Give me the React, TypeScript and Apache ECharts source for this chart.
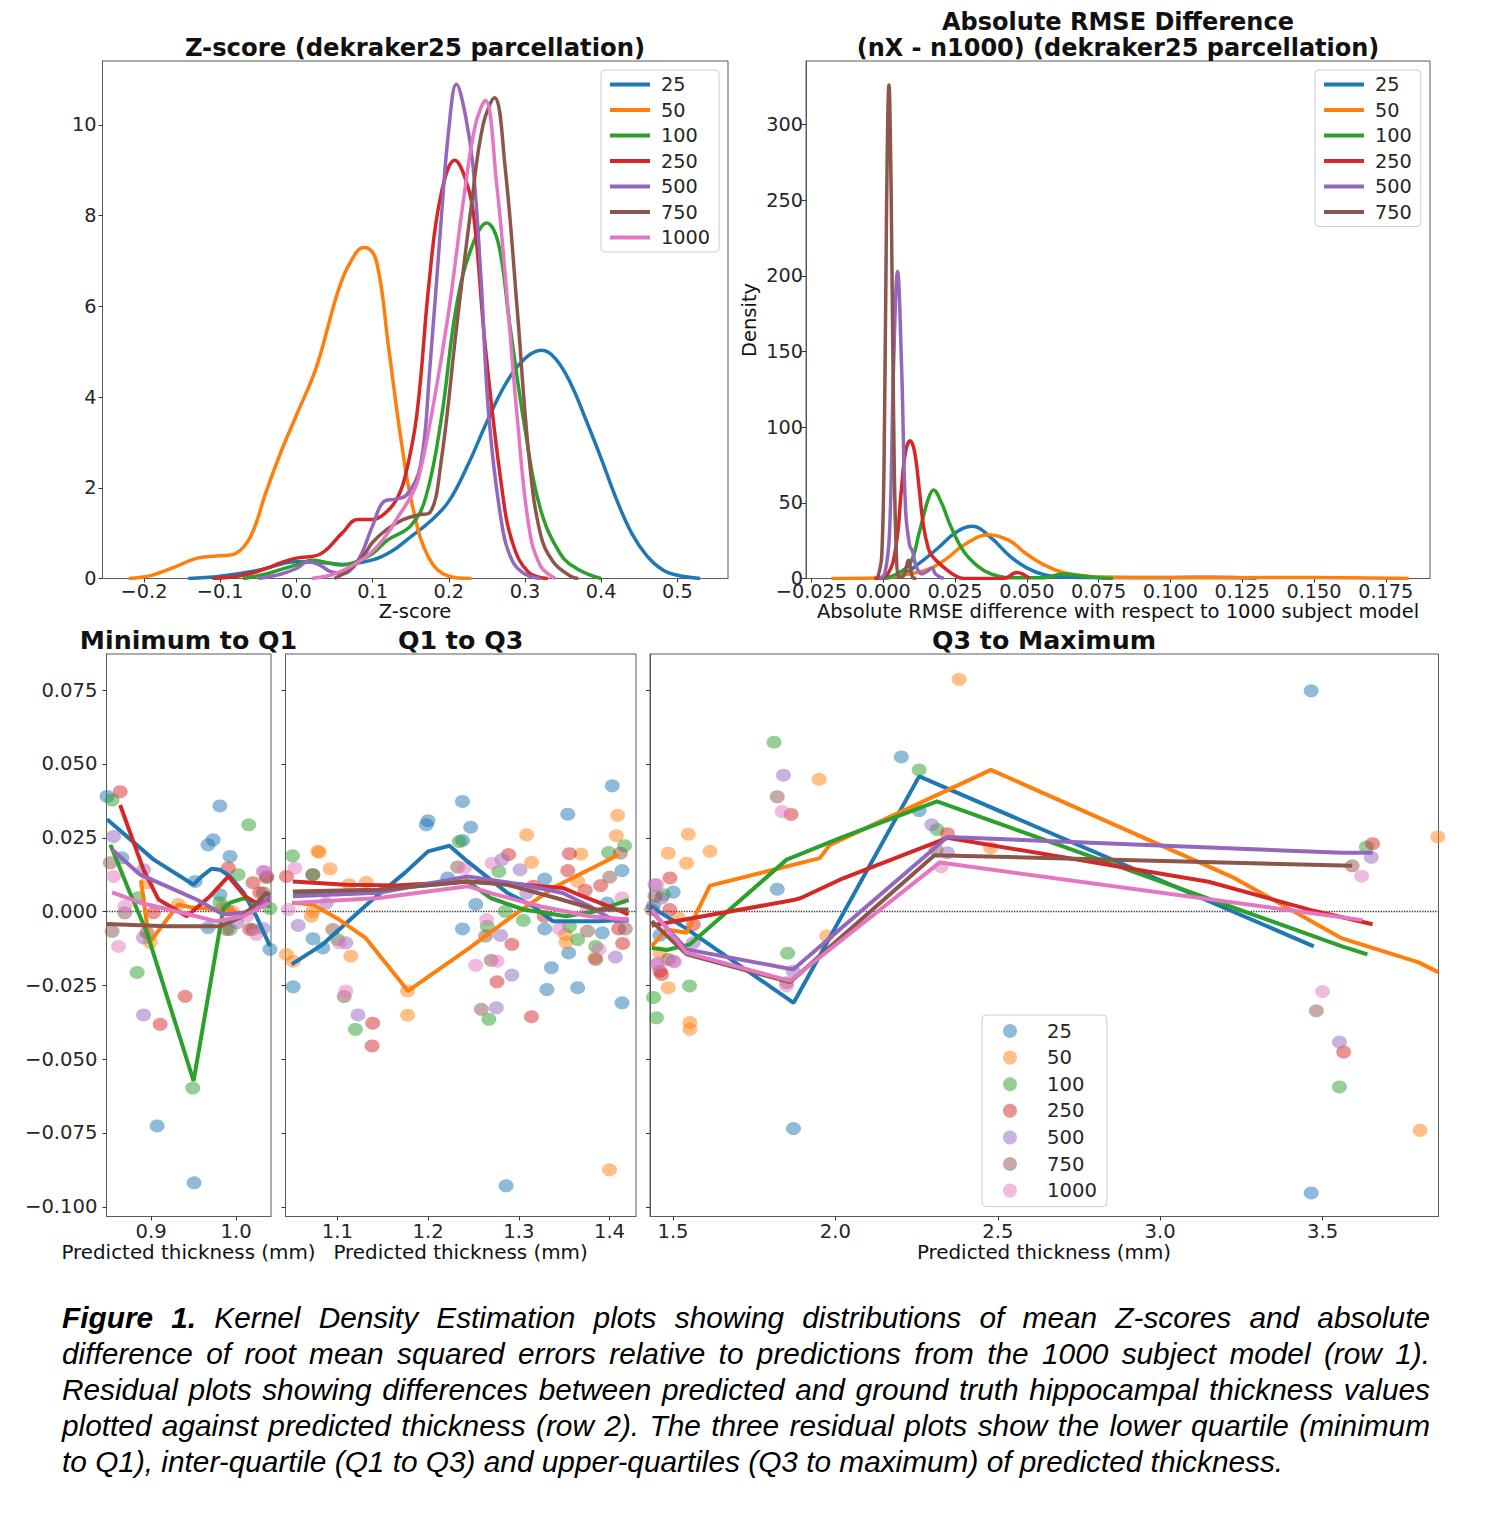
import React, { useEffect, useRef } from "react";
import * as echarts from "echarts";

// ---------- categories / ticks ----------
const SIZES = ["25", "50", "100", "250", "500", "750", "1000"];
const COLORS = ["#1f77b4", "#ff7f0e", "#2ca02c", "#d62728", "#9467bd", "#8c564b", "#e377c2"];

const zTicks = [-0.2, -0.1, 0.0, 0.1, 0.2, 0.3, 0.4, 0.5];
const zDensTicks = [0, 2, 4, 6, 8, 10];
const rTicks = [-0.025, 0.0, 0.025, 0.05, 0.075, 0.1, 0.125, 0.15, 0.175];
const rDensTicks = [0, 50, 100, 150, 200, 250, 300];
const resTicks = [-0.1, -0.075, -0.05, -0.025, 0.0, 0.025, 0.05, 0.075];
const p1Ticks = [0.9, 1.0];
const p2Ticks = [1.1, 1.2, 1.3, 1.4];
const p3Ticks = [1.5, 2.0, 2.5, 3.0, 3.5];

// ---------- KDE of Z-scores ----------
const z25 = [[-0.142,0],[-0.1,0.05],[-0.05,0.18],[0.0,0.37],[0.03,0.36],[0.06,0.31],[0.1,0.41],[0.125,0.6],[0.15,0.92],[0.175,1.25],[0.2,1.7],[0.225,2.5],[0.25,3.45],[0.275,4.3],[0.3,4.85],[0.322,5.03],[0.34,4.85],[0.36,4.3],[0.38,3.5],[0.4,2.65],[0.42,1.75],[0.44,1.0],[0.46,0.5],[0.48,0.2],[0.5,0.07],[0.53,0]];
const z50 = [[-0.22,0],[-0.19,0.07],[-0.16,0.25],[-0.13,0.45],[-0.1,0.5],[-0.08,0.55],[-0.06,0.93],[-0.04,1.9],[-0.02,2.8],[0.0,3.6],[0.026,4.65],[0.058,6.5],[0.079,7.2],[0.09,7.3],[0.105,7.0],[0.121,5.1],[0.137,3.1],[0.153,1.55],[0.174,0.45],[0.2,0.05],[0.23,0]];
const z100 = [[-0.07,0],[-0.04,0.1],[-0.02,0.2],[0.0,0.3],[0.02,0.4],[0.04,0.35],[0.06,0.3],[0.08,0.38],[0.1,0.55],[0.12,0.85],[0.15,1.16],[0.17,1.8],[0.19,3.5],[0.21,6.0],[0.23,7.3],[0.25,7.84],[0.265,7.4],[0.28,5.6],[0.3,3.3],[0.32,1.55],[0.347,0.53],[0.37,0.2],[0.4,0]];
const z250 = [[-0.11,0],[-0.07,0.07],[-0.04,0.22],[-0.02,0.35],[0.0,0.45],[0.03,0.53],[0.06,1.0],[0.08,1.3],[0.1,1.3],[0.115,1.42],[0.13,1.7],[0.142,2.2],[0.158,3.6],[0.174,6.5],[0.189,8.4],[0.208,9.22],[0.22,8.9],[0.232,8.1],[0.248,5.1],[0.27,1.95],[0.284,0.77],[0.305,0.13],[0.33,0]];
const z500 = [[-0.05,0],[-0.02,0.1],[0.0,0.22],[0.015,0.37],[0.03,0.3],[0.045,0.15],[0.06,0.1],[0.08,0.37],[0.1,1.16],[0.115,1.7],[0.13,1.75],[0.145,1.85],[0.163,2.5],[0.175,4.6],[0.19,7.9],[0.2,9.9],[0.21,10.9],[0.222,10.2],[0.232,9.06],[0.242,6.7],[0.253,3.5],[0.27,1.16],[0.284,0.37],[0.3,0.1],[0.32,0]];
const z750 = [[0.05,0],[0.07,0.2],[0.09,0.55],[0.1,0.8],[0.12,1.1],[0.14,1.3],[0.16,1.4],[0.175,1.45],[0.19,2.58],[0.21,5.5],[0.23,8.27],[0.245,10.0],[0.26,10.6],[0.274,9.06],[0.29,5.9],[0.305,2.74],[0.32,1.0],[0.337,0.37],[0.36,0.05],[0.37,0]];
const z1000 = [[0.02,0],[0.05,0.1],[0.08,0.35],[0.1,0.6],[0.12,1.0],[0.135,1.4],[0.15,1.8],[0.16,2.19],[0.18,3.85],[0.2,5.9],[0.22,8.43],[0.235,10.0],[0.248,10.54],[0.263,8.67],[0.274,6.7],[0.29,3.53],[0.305,1.16],[0.32,0.29],[0.34,0]];
const zCurves = [z25, z50, z100, z250, z500, z750, z1000];

// ---------- KDE of absolute RMSE differences ----------
const r25 = [[-0.003,0],[0.006,2],[0.0125,10],[0.019,20],[0.025,30],[0.031,34.5],[0.0375,27],[0.044,15],[0.05,7],[0.056,2.5],[0.0625,1],[0.075,0.6],[0.1,0.7],[0.115,0.8],[0.125,0.5],[0.13,0]];
const r50 = [[-0.018,0],[-0.003,0.3],[0.006,2],[0.0156,6],[0.022,13],[0.028,22],[0.0367,28.9],[0.044,25],[0.05,16],[0.056,9],[0.0625,4],[0.069,2],[0.075,1],[0.09,0.5],[0.12,0.5],[0.15,0.7],[0.183,0]];
const r100 = [[0,0],[0.0047,3],[0.0094,10],[0.0125,30],[0.0156,52],[0.0175,58.5],[0.0203,50],[0.0234,35],[0.028,18],[0.033,8],[0.0375,3],[0.044,0.5],[0.056,0.5],[0.0625,3],[0.068,2],[0.075,0.5],[0.08,0]];
const r250 = [[-0.003,0],[0.0016,3],[0.0045,22],[0.0063,58],[0.0078,84],[0.0094,91],[0.0109,84],[0.0125,60],[0.014,35],[0.0157,20],[0.017,15],[0.0195,10],[0.022,6],[0.025,2],[0.028,0],[0.042,0],[0.0465,4],[0.051,0]];
const r500 = [[-0.0016,0],[0.0005,3],[0.0022,30],[0.0036,140],[0.005,203],[0.0064,140],[0.0078,45],[0.0092,22],[0.0102,18],[0.0115,8],[0.0135,3],[0.0155,5],[0.017,7],[0.0182,3],[0.021,0]];
const r750 = [[-0.002,0],[-0.0005,15],[0.0005,110],[0.0012,250],[0.002,326],[0.0028,250],[0.0036,110],[0.0046,15],[0.0057,1],[0.0072,2],[0.0088,12],[0.0102,1],[0.0115,0]];
const rCurves = [r25, r50, r100, r250, r500, r750];

// ---------- residuals: Minimum to Q1 ----------
const p1Line25 = [[0.848,0.0313],[0.903,0.0176],[0.95,0.0091],[0.958,0.0115],[0.971,0.0145],[0.981,0.0142],[0.993,0.0119],[1.009,0.0064],[1.024,-0.0016],[1.04,-0.0117]];
const p1Line50 = [[0.888,0.0105],[0.898,-0.0105],[0.932,0.0024],[0.946,0.0015],[0.977,0.0007],[1.0,0.0002]];
const p1Line100 = [[0.852,0.0226],[0.875,0.0064],[0.895,-0.0071],[0.95,-0.0574],[0.985,0.001],[0.993,0.003],[1.009,0.0045],[1.024,0.003],[1.04,0.0018]];
const p1Line250 = [[0.8635,0.0361],[0.891,0.0142],[0.9086,0.0041],[0.942,-0.0016],[0.9694,0.0052],[0.991,0.0119],[1.0106,0.0052],[1.024,0.0029],[1.04,0.004]];
const p1Line500 = [[0.854,0.021],[0.887,0.0125],[0.918,0.0086],[0.954,0.004],[0.985,-0.001],[1.0086,-0.0004],[1.028,0.0018],[1.04,0.0052]];
const p1Line750 = [[0.848,-0.0042],[0.918,-0.005],[0.981,-0.005],[1.008,-0.0016],[1.036,0.0063],[1.04,0.0055]];
const p1Line1000 = [[0.854,0.0065],[0.887,0.003],[0.938,-0.0005],[0.977,-0.0033],[1.0086,-0.0016],[1.04,0.003]];
const p1Pts25 = [[0.848,0.039],[0.8655,0.0182],[0.9518,0.0102],[0.967,0.0226],[0.973,0.0243],[0.981,0.0358],[0.981,0.0057],[0.993,0.0187],[0.967,-0.0054],[0.907,-0.0726],[0.9506,-0.0919],[1.04,-0.0128]];
const p1Pts50 = [[0.895,0.0098],[0.899,-0.0105],[0.932,0.0024],[0.996,0.0],[0.985,0.0015]];
const p1Pts100 = [[0.854,0.0378],[0.8835,-0.0206],[0.885,0.0047],[0.949,-0.0598],[1.015,0.0294],[1.0024,0.0125],[0.981,0.003],[0.993,-0.006],[1.04,0.001]];
const p1Pts250 = [[0.8635,0.0406],[0.9027,-0.0004],[0.9106,-0.0382],[0.94,-0.0287],[0.991,0.0148],[1.02,0.0098],[1.036,0.0119],[1.028,0.0064],[1.016,-0.006]];
const p1Pts500 = [[0.8557,0.0254],[0.891,0.0142],[0.891,-0.0089],[0.891,-0.035],[0.989,0.0007],[1.001,-0.0038],[1.032,-0.0057],[1.032,0.0136]];
const p1Pts750 = [[0.8518,0.0165],[0.854,-0.0067],[0.869,-0.0004],[0.895,-0.0071],[0.989,-0.0061],[1.02,-0.0061],[1.032,0.0064],[1.036,0.0115]];
const p1Pts1000 = [[0.8557,0.0119],[0.8615,-0.0118],[0.869,0.0018],[1.0126,-0.0016],[1.024,-0.0078],[1.034,0.0136]];

// ---------- residuals: Q1 to Q3 ----------
const p2Line25 = [[1.0497,-0.0179],[1.084,-0.0111],[1.1348,0.003],[1.1747,0.0132],[1.2,0.0204],[1.2236,0.0223],[1.2435,0.017],[1.287,0.0064],[1.316,0.0018],[1.3377,-0.0033],[1.3594,-0.0033],[1.388,-0.0033],[1.421,-0.0027]];
const p2Line50 = [[1.05,0.003],[1.073,0.0024],[1.102,-0.0027],[1.131,-0.0089],[1.178,-0.0269],[1.2435,-0.0128],[1.2978,-0.0005],[1.341,0.0086],[1.3775,0.0142],[1.41,0.0193]];
const p2Line100 = [[1.0514,0.0063],[1.1457,0.0074],[1.2435,0.0102],[1.2688,0.0046],[1.305,0.0007],[1.3522,-0.0016],[1.3848,0.0001],[1.421,0.004]];
const p2Line250 = [[1.051,0.0102],[1.1094,0.0091],[1.1638,0.0088],[1.2435,0.0102],[1.305,0.0091],[1.3486,0.008],[1.3703,0.0052],[1.3992,0.0018],[1.421,-0.001]];
const p2Line500 = [[1.051,0.0052],[1.1457,0.0064],[1.2435,0.0119],[1.305,0.0091],[1.3486,0.0063],[1.3775,0.0018],[1.4065,-0.0033],[1.421,-0.003]];
const p2Line750 = [[1.051,0.0068],[1.1457,0.0074],[1.2435,0.0102],[1.287,0.0091],[1.341,0.0046],[1.3848,0.0007],[1.421,0.0007]];
const p2Line1000 = [[1.0514,0.0029],[1.1457,0.0046],[1.2435,0.0086],[1.2688,0.0063],[1.3232,0.0018],[1.3775,-0.0016],[1.421,-0.0027]];
const p2Pts25 = [[1.0514,-0.0255],[1.0732,-0.0092],[1.084,-0.0123],[1.198,0.0294],[1.2,0.0308],[1.238,0.0373],[1.247,0.0286],[1.238,0.0241],[1.2217,0.0114],[1.2525,0.0024],[1.238,-0.0059],[1.286,-0.0929],[1.3286,0.011],[1.3286,-0.0059],[1.354,0.033],[1.355,-0.014],[1.3359,-0.019],[1.331,-0.0264],[1.3649,-0.0258],[1.392,-0.0072],[1.3975,0.0029],[1.403,0.0426],[1.4138,0.0139],[1.4138,-0.0309]];
const p2Pts50 = [[1.0786,0.0204],[1.08,0.0201],[1.092,0.0145],[1.044,-0.0145],[1.0514,-0.0168],[1.0714,-0.0016],[1.073,0.0001],[1.113,0.0091],[1.132,0.0099],[1.1149,-0.0151],[1.1775,-0.0269],[1.1775,-0.0351],[1.3087,0.026],[1.314,0.0167],[1.3686,0.0195],[1.365,0.0102],[1.409,0.0326],[1.4076,0.0257],[1.3514,-0.0078],[1.352,-0.0104],[1.384,-0.0157],[1.4,-0.0875]];
const p2Pts100 = [[1.0507,0.0189],[1.073,0.0125],[1.1003,-0.0095],[1.12,-0.0399],[1.2344,0.0237],[1.2652,-0.005],[1.267,-0.0365],[1.278,0.0136],[1.285,0.0001],[1.305,-0.003],[1.3558,-0.005],[1.3649,-0.0095],[1.3848,-0.0118],[1.399,0.02],[1.4166,0.0223]];
const p2Pts250 = [[1.044,0.0119],[1.139,-0.0378],[1.1384,-0.0455],[1.2888,0.0193],[1.2924,-0.0111],[1.276,-0.0238],[1.314,-0.0356],[1.316,0.0086],[1.328,-0.0016],[1.354,0.0139],[1.3558,0.0196],[1.3732,0.0072],[1.3902,0.0088],[1.41,-0.0059],[1.4145,-0.0108]];
const p2Pts500 = [[1.0569,-0.0047],[1.0877,0.0029],[1.1094,-0.0106],[1.1228,-0.035],[1.2815,0.0176],[1.28,-0.0081],[1.2924,-0.0215],[1.2753,-0.0326],[1.3014,0.0142],[1.3087,0.0063],[1.4065,-0.0154]];
const p2Pts750 = [[1.073,0.0125],[1.095,-0.0061],[1.1076,-0.0288],[1.2326,0.0151],[1.2634,-0.0083],[1.2696,-0.0165],[1.2587,-0.0331],[1.3757,-0.0066],[1.3848,-0.0162],[1.4003,0.0117],[1.412,0.0198],[1.4174,-0.0059]];
const p2Pts1000 = [[1.046,0.0007],[1.0532,0.0147],[1.102,-0.0106],[1.1094,-0.0269],[1.2399,0.0147],[1.2645,-0.0027],[1.2525,-0.0182],[1.276,-0.0168],[1.2706,0.0164],[1.3449,-0.0059],[1.3757,0.0007],[1.3884,-0.0128],[1.4138,0.0046]];

// ---------- residuals: Q3 to Maximum ----------
const p3Line25 = [[1.4295,0.0018],[1.54,-0.0057],[1.8714,-0.0309],[2.258,0.0458],[3.473,-0.0118]];
const p3Line50 = [[1.4345,-0.0117],[1.4806,-0.0061],[1.542,-0.0072],[1.6138,0.0088],[1.952,0.0181],[1.983,0.0226],[2.479,0.048],[3.228,0.0114],[3.56,-0.0091],[3.796,-0.0172],[3.856,-0.0205]];
const p3Line100 = [[1.4345,-0.0123],[1.4806,-0.013],[1.5523,-0.0111],[1.85,0.0176],[2.0138,0.0249],[2.313,0.0373],[3.56,-0.0118],[3.638,-0.0145]];
const p3Line250 = [[1.4345,-0.0047],[1.4806,-0.0038],[1.871,0.0039],[1.894,0.0046],[2.0138,0.0108],[2.345,0.025],[3.149,0.0101],[3.465,0.0005],[3.654,-0.0043]];
const p3Line500 = [[1.4345,0.0001],[1.542,-0.0128],[1.87,-0.0196],[2.345,0.0253],[3.56,0.0199],[3.654,0.0199]];
const p3Line750 = [[1.4345,-0.0033],[1.542,-0.0145],[1.86,-0.0239],[2.305,0.0191],[3.591,0.0155]];
const p3Line1000 = [[1.4345,0.0007],[1.542,-0.014],[1.86,-0.0235],[2.321,0.0166],[3.623,-0.0029]];
const p3Pts25 = [[1.44,0.002],[1.46,-0.008],[1.5006,0.0066],[1.821,0.0076],[1.871,-0.0735],[2.203,0.0524],[2.258,0.0342],[3.465,0.0748],[3.465,-0.0953]];
const p3Pts50 = [[1.46,-0.014],[1.4855,0.0198],[1.4855,-0.0258],[1.516,-0.0021],[1.542,0.0164],[1.547,0.0262],[1.552,-0.0376],[1.552,-0.0399],[1.614,0.0204],[1.95,0.0448],[1.973,-0.0083],[2.381,0.0787],[2.478,0.0216],[3.8,-0.0741],[3.855,0.0253]];
const p3Pts100 = [[1.44,-0.0291],[1.449,-0.036],[1.47,0.0057],[1.551,-0.0252],[1.811,0.0574],[1.853,-0.0141],[2.258,0.048],[2.313,0.0278],[3.552,-0.0594],[3.635,0.0219]];
const p3Pts250 = [[1.46,-0.0202],[1.465,-0.0213],[1.49,0.0007],[1.4908,0.0114],[1.5625,-0.0044],[1.8637,0.0329],[2.345,0.0264],[3.565,-0.0476],[3.654,0.023]];
const p3Pts500 = [[1.4446,0.0091],[1.45,-0.0179],[1.465,0.0046],[1.501,-0.0168],[1.5625,-0.0106],[1.84,0.0462],[1.87,-0.0202],[2.297,0.0294],[2.345,0.0199],[3.552,-0.0442],[3.65,0.0184]];
const p3Pts750 = [[1.4345,0.0007],[1.4446,0.0052],[1.4856,-0.0162],[1.821,0.0389],[1.85,-0.0241],[2.31,0.021],[3.481,-0.0336],[3.591,0.0155]];
const p3Pts1000 = [[1.45,0.0091],[1.455,-0.0174],[1.505,-0.017],[1.836,0.0339],[1.85,-0.0252],[2.326,0.0152],[3.5,-0.0271],[3.62,0.012]];

const panelLines = [
  [p1Line25, p1Line50, p1Line100, p1Line250, p1Line500, p1Line750, p1Line1000],
  [p2Line25, p2Line50, p2Line100, p2Line250, p2Line500, p2Line750, p2Line1000],
  [p3Line25, p3Line50, p3Line100, p3Line250, p3Line500, p3Line750, p3Line1000],
];
const panelPts = [
  [p1Pts25, p1Pts50, p1Pts100, p1Pts250, p1Pts500, p1Pts750, p1Pts1000],
  [p2Pts25, p2Pts50, p2Pts100, p2Pts250, p2Pts500, p2Pts750, p2Pts1000],
  [p3Pts25, p3Pts50, p3Pts100, p3Pts250, p3Pts500, p3Pts750, p3Pts1000],
];

const CAPTION_REST = [
  "difference of root mean squared errors relative to predictions from the 1000 subject model (row 1).",
  "Residual plots showing differences between predicted and ground truth hippocampal thickness values",
  "plotted against predicted thickness (row 2). The three residual plots show the lower quartile (minimum",
  "to Q1), inter-quartile (Q1 to Q3) and upper-quartiles (Q3 to maximum) of predicted thickness.",
];

const FONT = "DejaVu Sans";
const TOP_FS = 19.3;
const BOT_FS = 19.6;
const minus = (s: string) => s.replace("-", "\u2212");

function axisCfg(gridIndex: number, min: number, max: number, ticks: number[], dec: number, showLabels: boolean, margin: number, fs: number) {
  return {
    type: "value",
    gridIndex,
    min,
    max,
    axisLine: { show: true, onZero: false, lineStyle: { color: "#5a5a5a", width: 1 } },
    axisTick: { show: true, inside: false, length: 4, customValues: ticks, lineStyle: { color: "#333", width: 1 } },
    axisLabel: {
      show: showLabels,
      customValues: ticks,
      margin,
      color: "#262626",
      fontSize: fs,
      fontFamily: FONT,
      formatter: (v: number) => minus(v.toFixed(dec)),
    },
    splitLine: { show: false },
  };
}

function text(x: number, y: number, t: string, bold: boolean, size: number, rotation = 0) {
  return {
    type: "text",
    x,
    y,
    rotation,
    silent: true,
    style: {
      text: t,
      fill: "#111",
      font: `${bold ? "bold " : ""}${size}px "${FONT}"`,
      align: "center",
      verticalAlign: "middle",
      textAlign: "center",
      textVerticalAlign: "middle",
    },
  };
}

function buildOption() {
  const grids = [
    { left: 102.5, top: 61, width: 625.5, height: 517.5 },
    { left: 806, top: 61, width: 624, height: 517.5 },
    { left: 106.5, top: 654, width: 164.5, height: 562.5 },
    { left: 285.5, top: 654, width: 350.5, height: 562.5 },
    { left: 650, top: 654, width: 788.5, height: 562.5 },
  ].map((g) => ({ ...g, show: true, borderColor: "#5a5a5a", borderWidth: 1, outerBoundsMode: "none", containLabel: false }));

  const xAxis = [
    axisCfg(0, -0.2545, 0.5665, zTicks, 1, true, 3, TOP_FS),
    axisCfg(1, -0.02688, 0.1904, rTicks, 3, true, 3, TOP_FS),
    axisCfg(2, 0.8474, 1.0412, p1Ticks, 1, true, 5, BOT_FS),
    axisCfg(3, 1.0429, 1.4292, p2Ticks, 1, true, 5, BOT_FS),
    axisCfg(4, 1.4292, 3.857, p3Ticks, 1, true, 5, BOT_FS),
  ];
  const yAxis = [
    axisCfg(0, 0, 11.41, zDensTicks, 0, true, 6, TOP_FS),
    axisCfg(1, 0, 341.9, rDensTicks, 0, true, 3, TOP_FS),
    axisCfg(2, -0.1033, 0.08726, resTicks, 3, true, 9, BOT_FS),
    axisCfg(3, -0.1033, 0.08726, resTicks, 3, false, 9, BOT_FS),
    axisCfg(4, -0.1033, 0.08726, resTicks, 3, false, 9, BOT_FS),
  ];

  const series: any[] = [];
  zCurves.forEach((d, i) => {
    series.push({
      type: "line", name: "z" + SIZES[i], xAxisIndex: 0, yAxisIndex: 0, data: d,
      smooth: 0.4, symbol: "none", showSymbol: false, z: 3,
      lineStyle: { width: 3.5, color: COLORS[i] }, itemStyle: { color: COLORS[i] },
    });
  });
  rCurves.forEach((d, i) => {
    series.push({
      type: "line", name: "r" + SIZES[i], xAxisIndex: 1, yAxisIndex: 1, data: d,
      smooth: 0.4, symbol: "none", showSymbol: false, z: 3,
      lineStyle: { width: 3.5, color: COLORS[i] }, itemStyle: { color: COLORS[i] },
    });
  });
  panelPts.forEach((panel, p) => {
    panel.forEach((d, i) => {
      const s: any = {
        type: "scatter", name: "s" + SIZES[i], xAxisIndex: 2 + p, yAxisIndex: 2 + p, data: d,
        symbol: "circle", symbolSize: [15, 13], z: 2,
        itemStyle: { color: COLORS[i], opacity: 0.5 },
      };
      if (i === 0) {
        s.markLine = {
          silent: true, symbol: "none", animation: false, z: 1,
          label: { show: false },
          lineStyle: { type: "dotted", color: "#333", width: 1.3 },
          data: [{ yAxis: 0 }],
        };
      }
      series.push(s);
    });
  });
  panelLines.forEach((panel, p) => {
    panel.forEach((d, i) => {
      series.push({
        type: "line", name: "l" + SIZES[i], xAxisIndex: 2 + p, yAxisIndex: 2 + p, data: d,
        symbol: "none", showSymbol: false, z: 4,
        lineStyle: { width: 4, color: COLORS[i] }, itemStyle: { color: COLORS[i] },
      });
    });
  });

  const legendBase = {
    orient: "vertical",
    selectedMode: false,
    borderColor: "#cccccc",
    borderWidth: 1,
    borderRadius: 4,
    backgroundColor: "rgba(255,255,255,0.8)",
    formatter: (n: string) => n.slice(1),
  };
  const legend = [
    {
      ...legendBase, left: 601, top: 70, data: SIZES.map((s) => "z" + s),
      icon: "rect", itemWidth: 40, itemHeight: 4, itemGap: 6.5, padding: [5, 9, 5, 9],
      textStyle: { fontSize: TOP_FS, fontFamily: FONT, color: "#262626", lineHeight: 19, padding: [0, 0, 0, 6] },
    },
    {
      ...legendBase, left: 1315, top: 70, data: SIZES.slice(0, 6).map((s) => "r" + s),
      icon: "rect", itemWidth: 40, itemHeight: 4, itemGap: 6.5, padding: [5, 9, 5, 9],
      textStyle: { fontSize: TOP_FS, fontFamily: FONT, color: "#262626", lineHeight: 19, padding: [0, 0, 0, 6] },
    },
    {
      ...legendBase, left: 982, top: 1015,
      data: SIZES.map((s) => ({ name: "s" + s, itemStyle: { opacity: 0.5 } })),
      icon: "circle", itemWidth: 14, itemHeight: 14, itemGap: 6.6, padding: [6, 10, 6, 21],
      textStyle: { fontSize: BOT_FS, fontFamily: FONT, color: "#262626", lineHeight: 19, padding: [0, 0, 0, 25] },
    },
  ];

  const graphic = [
    text(415, 47, "Z-score (dekraker25 parcellation)", true, 24.3),
    text(1118, 21.5, "Absolute RMSE Difference", true, 24),
    text(1118, 47.5, "(nX - n1000) (dekraker25 parcellation)", true, 24),
    text(188.5, 640, "Minimum to Q1", true, 25.3),
    text(460.6, 640, "Q1 to Q3", true, 25.3),
    text(1044, 640, "Q3 to Maximum", true, 25.3),
    text(415, 611, "Z-score", false, 19.5),
    text(1118, 611, "Absolute RMSE difference with respect to 1000 subject model", false, 19.5),
    text(749, 320, "Density", false, 19.5, Math.PI / 2),
    text(188.5, 1252, "Predicted thickness (mm)", false, 19.9),
    text(460.6, 1252, "Predicted thickness (mm)", false, 19.9),
    text(1044, 1252, "Predicted thickness (mm)", false, 19.9),
  ];

  return {
    animation: false,
    backgroundColor: "#ffffff",
    textStyle: { fontFamily: FONT },
    grid: grids,
    xAxis,
    yAxis,
    legend,
    graphic,
    series,
  };
}

export default function App() {
  const ref = useRef<HTMLDivElement>(null);
  useEffect(() => {
    if (!ref.current) return;
    const chart = echarts.init(ref.current, null, { renderer: "svg" });
    chart.setOption(buildOption() as any);
    return () => chart.dispose();
  }, []);

  return (
    <div style={{ position: "absolute", left: 0, top: 0, width: 1486, height: 1500, background: "#fff", overflow: "hidden" }}>
      <div ref={ref} style={{ position: "absolute", left: 0, top: 0, width: 1486, height: 1290 }} />
      <div
        style={{
          position: "absolute", left: 62, top: 1300, width: 1368,
          fontFamily: '"Liberation Sans", Arial, sans-serif', fontStyle: "italic", fontSize: 29.8,
          lineHeight: "36px", color: "#000",
        }}
      >
        <div style={{ textAlign: "justify", textAlignLast: "justify" }}>
          <b>Figure 1.</b> Kernel Density Estimation plots showing distributions of mean Z-scores and absolute
        </div>
        {CAPTION_REST.map((ln, i) => (
          <div key={i} style={i < CAPTION_REST.length - 1 ? { textAlign: "justify", textAlignLast: "justify" } : { textAlign: "left" }}>
            {ln}
          </div>
        ))}
      </div>
    </div>
  );
}
